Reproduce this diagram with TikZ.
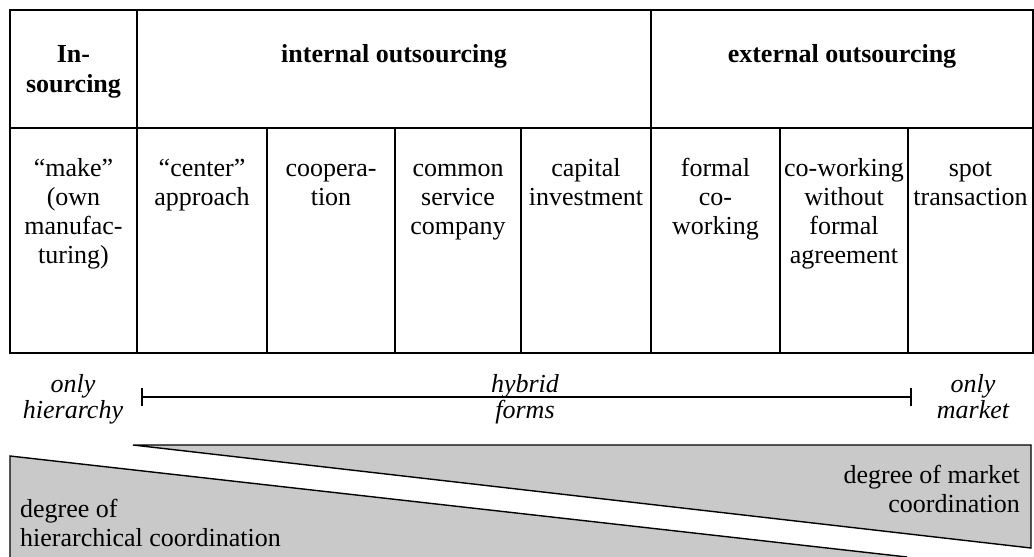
\documentclass[tikz,border=0pt]{standalone}
\usepackage{fontspec}
\setmainfont{Liberation Serif}
\newcommand{\cellstack}[1]{\begin{tabular}[t]{@{}c@{}}#1\end{tabular}}
\newcommand{\lstack}[1]{\begin{tabular}[t]{@{}l@{}}#1\end{tabular}}
\newcommand{\rstack}[1]{\begin{tabular}[t]{@{}r@{}}#1\end{tabular}}
\begin{document}
\begin{tikzpicture}[x=1pt,y=-1pt,
  grid/.style={line width=1.6pt},
  txt/.style={inner sep=0pt,anchor=base,font=\fontsize{26}{29}\selectfont},
  ital/.style={txt,font=\fontsize{26}{26}\selectfont\itshape},
  shade/.style={fill=gray!42,draw=black,line width=1.4pt},
  bar/.style={line width=1.4pt}]
\useasboundingbox (0,0) rectangle (1034,557);
% table
\draw[grid] (10,10) rectangle (1033,353);
\draw[grid] (10,128) -- (1033,128);
\draw[grid] (137,10) -- (137,353);
\draw[grid] (651,10) -- (651,353);
\foreach \x in {267,395,521,780,908} \draw[grid] (\x,128) -- (\x,353);
% headers
\node[txt,font=\fontsize{26}{30}\selectfont\bfseries] (hin) at (73.5,62) {\cellstack{In-\\sourcing}};
\node[txt,font=\fontsize{26}{29}\selectfont\bfseries] (hint) at (394,62) {internal outsourcing};
\node[txt,font=\fontsize{26}{29}\selectfont\bfseries] (hext) at (842,62) {external outsourcing};
% cells
\node[txt] (c0) at (73.5,176) {\cellstack{``make''\\(own\\manufac-\\turing)}};
\node[txt] (c1) at (202,176) {\cellstack{``center''\\approach}};
\node[txt] (c2) at (331,176) {\cellstack{coopera-\\tion}};
\node[txt] (c3) at (458,176) {\cellstack{common\\service\\company}};
\node[txt] (c4) at (586,176) {\cellstack{capital\\investment}};
\node[txt] (c5) at (715.5,176) {\cellstack{formal\\co-\\working}};
\node[txt] (c6) at (844,176) {\cellstack{co-working\\without\\formal\\agreement}};
\node[txt] (c7) at (970.5,176) {\cellstack{spot\\transaction}};
% hybrid range
\node[ital] (oh) at (73,392) {\cellstack{only\\hierarchy}};
\node[ital] (hf) at (525,392) {\cellstack{hybrid\\forms}};
\node[ital] (om) at (973,392) {\cellstack{only\\market}};
\coordinate (hl) at (142,397);
\coordinate (hr) at (911,397);
\draw[bar] (hl) -- (hr);
\draw[bar] ([yshift=-9pt]hl) -- ([yshift=9pt]hl);
\draw[bar] ([yshift=-9pt]hr) -- ([yshift=9pt]hr);
% wedges
\draw[shade] (133,445) -- (1031,445) -- (1031,548) -- cycle;
\fill[gray!42] (10,456) -- (907,557) -- (10,557) -- cycle;
\draw[line width=1.4pt] (10,560) -- (10,456) -- (907,557);
\node[txt,anchor=base east] (mk) at (1020,483) {\rstack{degree of market\\coordination}};
\node[txt,anchor=base west] (hc) at (20,517) {\lstack{degree of\\hierarchical coordination}};
\end{tikzpicture}
\end{document}
